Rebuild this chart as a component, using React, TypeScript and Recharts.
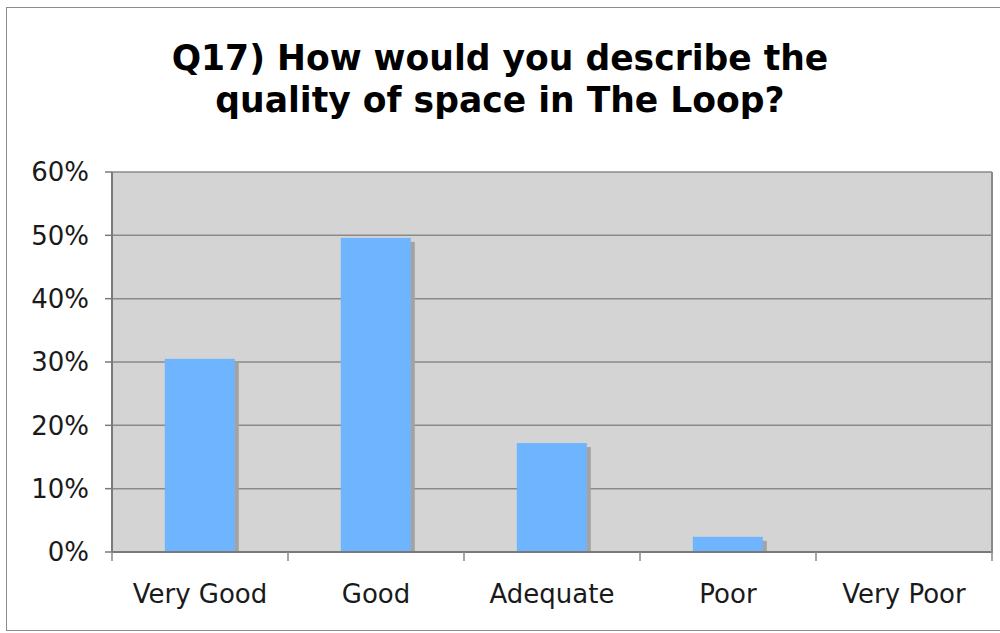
import React from 'react';
import { BarChart, Bar, XAxis, YAxis, CartesianGrid } from 'recharts';

const categories = ['Very Good', 'Good', 'Adequate', 'Poor', 'Very Poor'];
const percentValues = [30.5, 49.6, 17.2, 2.4, 0];
const yTicks = [0, 10, 20, 30, 40, 50, 60];
const titleLines = ['Q17) How would you describe the', 'quality of space in The Loop?'];

const data = categories.map((c, i) => ({ category: c, value: percentValues[i] }));

const FONT = '"DejaVu Sans", Verdana, sans-serif';
const PLOT_W = 880;

const ShadowBar = (props: any) => {
  const { x, y, width, height } = props;
  if (!height || height <= 0) return null;
  const off = 4;
  return (
    <g>
      <rect x={x + off} y={y + off} width={width} height={Math.max(0, height - off)} fill="#a3a3a3" />
      <rect x={x} y={y} width={width} height={height} fill="#6eb4fe" />
    </g>
  );
};

const XTick = (props: any) => {
  const { x, y, payload, index } = props;
  const half = PLOT_W / categories.length / 2;
  return (
    <g>
      <line x1={x - half} x2={x - half} y1={y - 8} y2={y + 1} stroke="#888" strokeWidth={1.5} />
      {index === categories.length - 1 && (
        <line x1={x + half} x2={x + half} y1={y - 8} y2={y + 1} stroke="#888" strokeWidth={1.5} />
      )}
      <text x={x} y={y + 43} textAnchor="middle" fontFamily={FONT} fontSize={26} fill="#1a1a1a">
        {payload.value}
      </text>
    </g>
  );
};

export default function App() {
  return (
    <div style={{ position: 'absolute', left: 0, top: 0, width: 1000, height: 633, background: '#fff' }}>
      <div
        style={{
          position: 'absolute',
          left: 6,
          top: 7,
          width: 1000,
          height: 624,
          border: '1.5px solid #8c8c8c',
          boxSizing: 'border-box',
        }}
      />
      <div
        style={{
          position: 'absolute',
          left: 0,
          top: 37,
          width: 1000,
          textAlign: 'center',
          fontFamily: FONT,
          fontWeight: 'bold',
          fontSize: 36,
          lineHeight: '42px',
          color: '#000',
          transform: 'scaleX(0.96)',
          transformOrigin: '500px 0',
        }}
      >
        {titleLines.map((t) => (
          <div key={t}>{t}</div>
        ))}
      </div>
      <div style={{ position: 'absolute', left: 0, top: 0 }}>
        <BarChart
          width={1000}
          height={633}
          data={data}
          margin={{ top: 172, right: 8, bottom: 0, left: 0 }}
          barCategoryGap="30%"
        >
          <CartesianGrid
            vertical={false}
            stroke="#8a8a8a"
            strokeWidth={1.5}
            fill="#d4d4d4"
            fillOpacity={1}
          />
          <XAxis
            dataKey="category"
            height={81}
            axisLine={{ stroke: '#7a7a7a', strokeWidth: 2 }}
            tickLine={false}
            tick={<XTick />}
            interval={0}
          />
          <YAxis
            width={112}
            domain={[0, 60]}
            ticks={yTicks}
            interval={0}
            tickFormatter={(v: number) => `${v}%`}
            axisLine={{ stroke: '#7a7a7a', strokeWidth: 2 }}
            tickLine={{ stroke: '#7a7a7a', strokeWidth: 1.5 }}
            tickSize={7}
            tickMargin={16}
            tick={{ fontFamily: FONT, fontSize: 26, fill: '#1a1a1a' }}
          />
          <Bar dataKey="value" shape={<ShadowBar />} isAnimationActive={false} />
        </BarChart>
      </div>
      <div style={{ position: 'absolute', left: 991, top: 172, width: 2, height: 381, background: '#8a8a8a' }} />
    </div>
  );
}
